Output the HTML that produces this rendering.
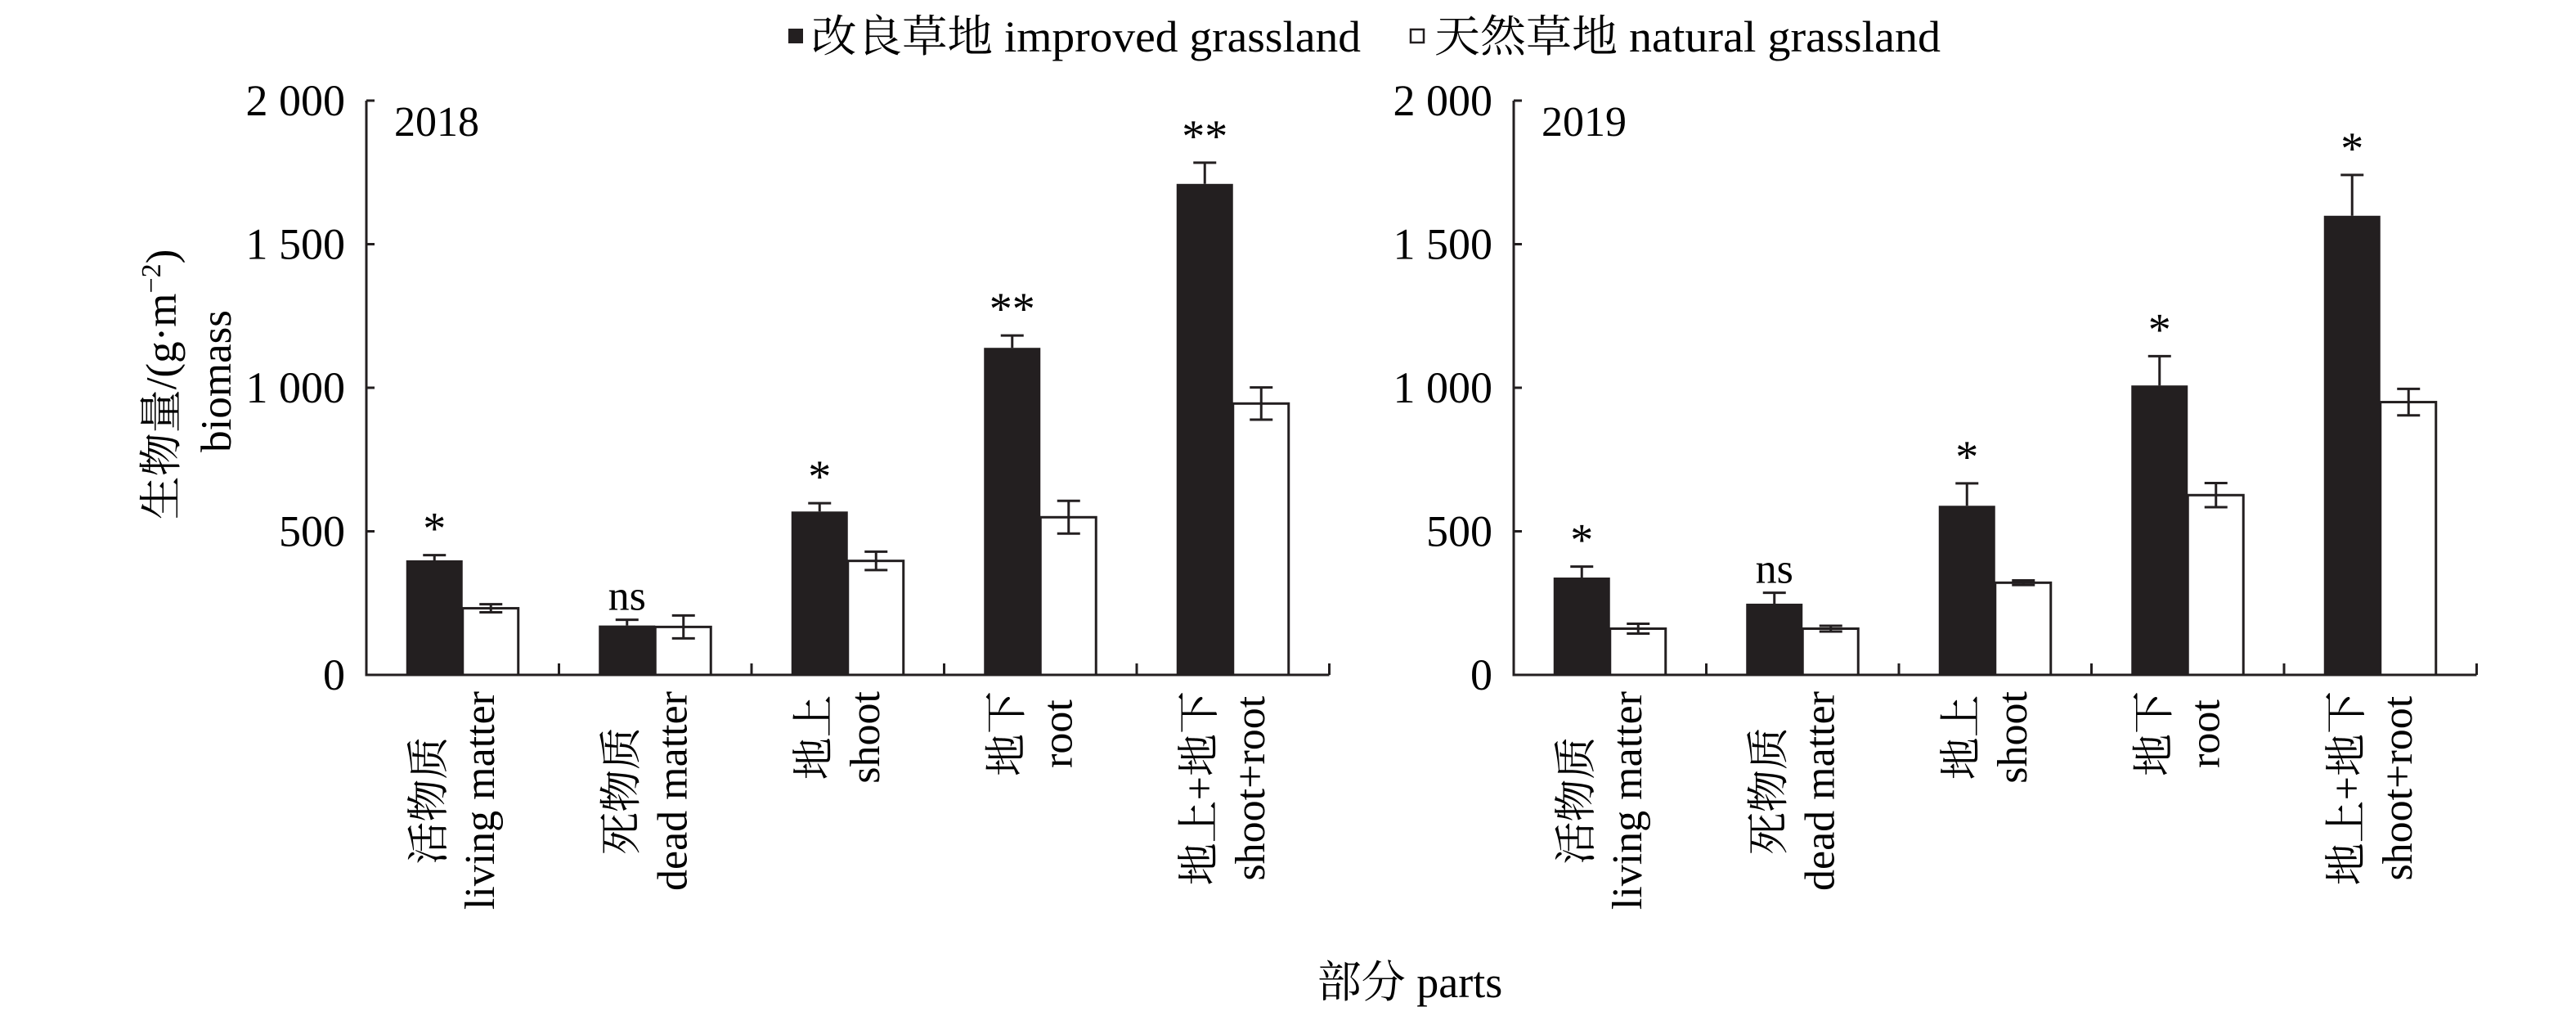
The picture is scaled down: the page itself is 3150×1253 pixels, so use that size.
<!DOCTYPE html>
<html><head><meta charset="utf-8">
<style>
html,body{margin:0;padding:0;background:#fff;}
svg{display:block;font-family:"Liberation Serif","Noto Serif CJK SC",serif;}
</style></head>
<body>
<svg id="chart" width="3150" height="1253" viewBox="0 0 3150 1253" xmlns="http://www.w3.org/2000/svg">
  <g>
    <rect x="964" y="35" width="18" height="18" fill="#231f20"/>
    <text x="992" y="63" font-size="54" textLength="672" lengthAdjust="spacingAndGlyphs">改良草地 improved grassland</text>
    <rect x="1725" y="36" width="16" height="16" fill="#fff" stroke="#231f20" stroke-width="2.5"/>
    <text x="1754" y="63" font-size="54" textLength="619" lengthAdjust="spacingAndGlyphs">天然草地 natural grassland</text>
  </g>
  <g font-size="53">
    <text transform="translate(215,470) rotate(-90)" text-anchor="middle">生物量/(g·m<tspan font-size="34" dy="-19">−2</tspan><tspan dy="19">)</tspan></text>
    <text transform="translate(282,466) rotate(-90)" text-anchor="middle">biomass</text>
  </g>
  <text x="1724" y="1219" font-size="54" text-anchor="middle">部分 parts</text>
  <g id="plots"></g>
</svg>
<script>
const categoriesCn = ["活物质","死物质","地上","地下","地上+地下"];
const categoriesEn = ["living matter","dead matter","shoot","root","shoot+root"];
const yTicks = [0,500,1000,1500,2000];
const yTickLabels = ["0","500","1 000","1 500","2 000"];
const years = ["2018","2019"];
const improved2018 = [399,172,569,1139,1710];
const improved2018Err = [18,20,29,43,74];
const natural2018 = [232,167,397,549,945];
const natural2018Err = [14,40,32,57,56];
const sig2018 = ["*","ns","*","**","**"];
const improved2019 = [339,248,589,1008,1599];
const improved2019Err = [38,38,78,102,142];
const natural2019 = [161,161,321,626,950];
const natural2019Err = [17,10,8,42,46];
const sig2019 = ["*","ns","*","*","*"];

const NS="http://www.w3.org/2000/svg";
const plots=document.getElementById('plots');
function mk(tag,attrs,parent){const e=document.createElementNS(NS,tag);for(const k in attrs)e.setAttribute(k,attrs[k]);parent.appendChild(e);return e;}
const Y0=825, Y2000=123;
function yScale(v){return Y0-(v/2000)*(Y0-Y2000);}
const panels=[
 {x0:448,year:years[0],imp:improved2018,impE:improved2018Err,nat:natural2018,natE:natural2018Err,sig:sig2018},
 {x0:1851,year:years[1],imp:improved2019,impE:improved2019Err,nat:natural2019,natE:natural2019Err,sig:sig2019}
];
const catW=235.5, barW=69;
const col="#231f20";
panels.forEach((p,pi)=>{
  const g=mk('g',{},plots);
  
  
  function xScale(i){return p.x0+catW*(i+0.5);}
  const xEnd=p.x0+catW*categoriesCn.length;
  p.imp.forEach((v,i)=>{
    const c=xScale(i);
    const r=mk('rect',{x:c-barW,y:yScale(v),width:barW,height:Y0-yScale(v),fill:col},g);
    
    
    const w=p.nat[i];
    const r2=mk('rect',{x:c,y:yScale(w),width:barW-1,height:Y0-yScale(w),fill:'#fff',stroke:col,'stroke-width':3},g);
    
    
    const ex=c-barW/2, et=yScale(v+p.impE[i]);
    const e1=mk('path',{d:`M${ex},${yScale(v)}V${et}M${ex-14},${et}H${ex+14}`,stroke:col,'stroke-width':3,fill:'none'},g);
    
    
    const nx=c+barW/2, nt=yScale(w+p.natE[i]), nb=yScale(w-p.natE[i]);
    const e2=mk('path',{d:`M${nx},${nb}V${nt}M${nx-14},${nt}H${nx+14}M${nx-14},${nb}H${nx+14}`,stroke:col,'stroke-width':3,fill:'none'},g);
    
    
    const isNs=p.sig[i]==='ns';
    const s=mk('text',{x:ex,y:isNs?et-12:et-14,'font-size':isNs?52:56,'text-anchor':'middle'},g);
    s.textContent=p.sig[i];
    
    
    const tg=mk('g',{'font-size':52},g);
    
    
    const t1=mk('text',{'text-anchor':'middle'},tg); t1.textContent=categoriesCn[i];
    const t2=mk('text',{'text-anchor':'middle'},tg); t2.textContent=categoriesEn[i];
    const L=Math.max(t1.getComputedTextLength(),t2.getComputedTextLength());
    const cy=845+L/2;
    t1.setAttribute('transform',`translate(${c-24},${cy}) rotate(-90)`);
    t2.setAttribute('transform',`translate(${c+38},${cy}) rotate(-90)`);
  });
  const ax=mk('path',{d:`M${p.x0},${Y2000}V${Y0}H${xEnd}`,stroke:col,'stroke-width':3,fill:'none'},g);
  
  
  for(let i=1;i<=categoriesCn.length;i++){
    const tx=p.x0+catW*i;
    const t=mk('line',{x1:tx,x2:tx,y1:Y0,y2:Y0-14,stroke:col,'stroke-width':3},g);
    
    
  }
  yTicks.forEach((v,k)=>{
    const t=mk('line',{x1:p.x0,x2:p.x0+10,y1:yScale(v),y2:yScale(v),stroke:col,'stroke-width':3},g);
    
    
    const l=mk('text',{x:p.x0-26,y:yScale(v)+18,'font-size':54,'text-anchor':'end'},g);
    l.textContent=yTickLabels[k];
    
    
  });
  const yl=mk('text',{x:p.x0+34,y:166,'font-size':52},g);
  yl.textContent=p.year;
  
  
});
</script>
</body></html>
